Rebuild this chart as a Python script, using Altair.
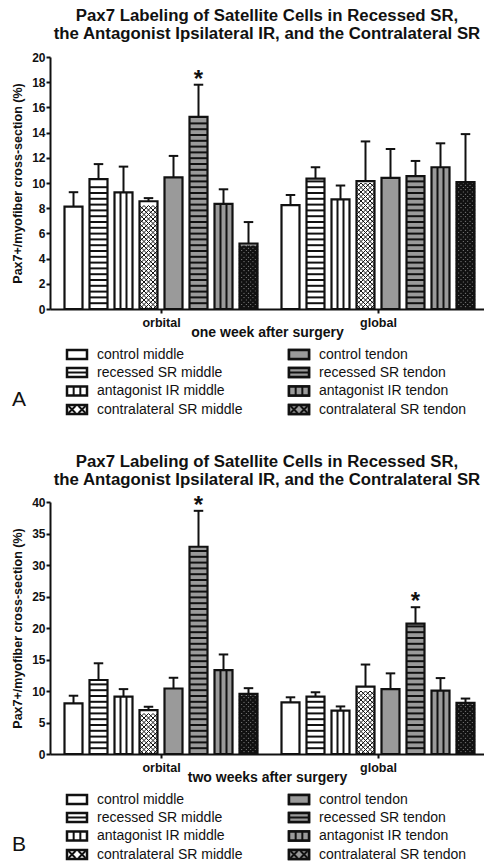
import altair as alt
import pandas as pd

FONT = "Liberation Sans"
INK = "#111111"
GRAY = "#9a9a9a"

# ---------------- data ----------------
groups = ["orbital", "global"]
series = ["control middle", "recessed SR middle", "antagonist IR middle", "contralateral SR middle",
          "control tendon", "recessed SR tendon", "antagonist IR tendon", "contralateral SR tendon"]
patterns = ["plain", "hstripe", "vstripe", "cross", "plain", "hstripe", "vstripe", "cross"]
tissue = ["middle", "middle", "middle", "middle", "tendon", "tendon", "tendon", "tendon"]

week1_orbital_mean = [8.12, 10.3, 9.25, 8.55, 10.45, 15.25, 8.35, 5.2]
week1_orbital_err = [1.15, 1.2, 2.05, 0.25, 1.7, 2.55, 1.15, 1.7]
week1_global_mean = [8.25, 10.35, 8.7, 10.15, 10.4, 10.55, 11.25, 10.08]
week1_global_err = [0.8, 0.9, 1.1, 3.15, 2.3, 1.2, 1.9, 3.8]

week2_orbital_mean = [8.05, 11.75, 9.1, 6.95, 10.4, 32.9, 13.3, 9.55]
week2_orbital_err = [1.2, 2.65, 1.2, 0.55, 1.7, 5.7, 2.5, 0.9]
week2_global_mean = [8.2, 9.1, 6.9, 10.7, 10.3, 20.7, 10.05, 8.1]
week2_global_err = [0.8, 0.7, 0.65, 3.5, 2.5, 2.6, 2.0, 0.7]

week1_significant = [("orbital", "recessed SR tendon")]
week2_significant = [("orbital", "recessed SR tendon"), ("global", "recessed SR tendon")]

title_lines = ["Pax7 Labeling of Satellite Cells in Recessed SR,",
               "the Antagonist Ipsilateral IR, and the Contralateral SR"]
week_labels = ["one week after surgery", "two weeks after surgery"]
panel_letters = ["A", "B"]
y_label = "Pax7+/myofiber cross-section (%)"

# ---------------- layout (style only) ----------------
PLOT_W, PLOT_H = 434, 252
GROUP_CENTER = [4.44, 13.12]
X_MAX = 17.36
HALF = 0.36
CAP = 0.19
LEG_SW_X = [17, 239]
LEG_TX_X = [47, 269]
LEG_ROW_Y = [297.5, 315.5, 334, 352.5]
XSHAPE = "M-1,-1L1,1M-1,1L1,-1"


def build_panel(means, errs, ymax, ystep, xtitle, letter, sig, title_offset):
    ppu = PLOT_H / ymax
    upx = X_MAX / PLOT_W
    rows = []
    for gi, g in enumerate(groups):
        for si, s in enumerate(series):
            pos = GROUP_CENTER[gi] + si - 3.5
            m = means[g][si]
            e = errs[g][si]
            rows.append(dict(group=g, series=s, mean=m, top=m + e, pos=pos,
                             xl=pos - HALF, xr=pos + HALF, cl=pos - CAP, cr=pos + CAP,
                             tissue=tissue[si], pattern=patterns[si],
                             star="*" if (g, s) in sig else ""))
    df = pd.DataFrame(rows)

    hs, vs, xs = [], [], []
    dy_h = 5.8 / ppu
    for r in rows:
        if r["pattern"] == "hstripe":
            k = 1
            while k * dy_h < r["mean"] - 0.45 * dy_h:
                hs.append(dict(xl=r["xl"], xr=r["xr"], mean=k * dy_h))
                k += 1
        elif r["pattern"] == "vstripe":
            for f in (1 / 3, 2 / 3):
                vs.append(dict(xl=r["xl"] + f * (r["xr"] - r["xl"]), mean=r["mean"]))
        elif r["pattern"] == "cross":
            ncol = 4
            cw = (r["xr"] - r["xl"]) / ncol
            ch = (cw / upx) / ppu
            k = 0
            while (k + 1) * ch <= r["mean"] + 1e-9:
                for j in range(ncol):
                    xs.append(dict(xl=r["xl"] + (j + 0.5) * cw, mean=(k + 0.5) * ch, tissue=r["tissue"]))
                k += 1
    hs_df = pd.DataFrame(hs)
    vs_df = pd.DataFrame(vs)
    xs_df = pd.DataFrame(xs)

    xscale = alt.Scale(domain=[0, X_MAX], nice=False, zero=False)
    yscale = alt.Scale(domain=[0, ymax], nice=False)
    X = alt.X("xl:Q", scale=xscale, title=xtitle,
              axis=alt.Axis(values=GROUP_CENTER, labelExpr="datum.value < 9 ? 'orbital' : 'global'",
                            tickSize=4, tickWidth=2, domainWidth=2, labelPadding=3,
                            labelFontSize=12.5, labelFontWeight="bold", labelAngle=0,
                            titleFontSize=14, titleFontWeight="bold",
                            titleY=27, titleBaseline="alphabetic"))
    Y = alt.Y("mean:Q", scale=yscale, title=y_label,
              axis=alt.Axis(values=list(range(0, ymax + 1, ystep)), tickSize=4, tickWidth=2,
                            domainWidth=2, labelPadding=1, labelFontSize=12, labelFontWeight="bold",
                            titleFontSize=12.5, titleFontWeight="bold", titlePadding=7))

    base = alt.Chart(df)
    fill_enc = alt.Fill("tissue:N", scale=alt.Scale(domain=["middle", "tendon"], range=["white", GRAY]), legend=None)

    bars = base.mark_bar(strokeWidth=0).encode(x=X, x2="xr:Q", y=Y, y2=alt.datum(0), fill=fill_enc)

    layers = [bars]
    if len(hs_df):
        layers.append(alt.Chart(hs_df).mark_rule(color=INK, strokeWidth=2).encode(
            x=X, x2="xr:Q", y=Y))
    if len(vs_df):
        layers.append(alt.Chart(vs_df).mark_rule(color=INK, strokeWidth=2).encode(
            x=X, y=Y, y2=alt.datum(0)))
    if len(xs_df):
        layers.append(alt.Chart(xs_df).mark_point(
            shape=XSHAPE, size=(HALF * 2 / 4 / upx) ** 2, filled=False, opacity=1).encode(
            x=X, y=Y,
            stroke=alt.Stroke("tissue:N", scale=alt.Scale(domain=["middle", "tendon"], range=[INK, INK]), legend=None),
            strokeWidth=alt.StrokeWidth("tissue:N", scale=alt.Scale(domain=["middle", "tendon"], range=[1.0, 2.4]), legend=None),
        ))
    # outlines on top
    layers.append(base.mark_bar(fillOpacity=0, stroke=INK, strokeWidth=2.2).encode(
        x=X, x2="xr:Q", y=Y, y2=alt.datum(0)))
    # error bars
    layers.append(base.transform_calculate(xl="datum.pos").mark_rule(color=INK, strokeWidth=2).encode(
        x=X, y=Y, y2="top:Q"))
    layers.append(base.transform_calculate(xl="datum.cl", mean="datum.top").mark_rule(color=INK, strokeWidth=2).encode(
        x=X, x2="cr:Q", y=Y))
    # significance
    layers.append(base.transform_filter("datum.star != ''").transform_calculate(
        xl="datum.pos", mean="datum.top").mark_text(
        font=FONT, fontSize=24, fontWeight="bold", color=INK, baseline="middle", dy=-5).encode(
        x=X, y=Y, text="star:N"))

    # legend drawn with pixel positions
    leg = []
    for si, s in enumerate(series):
        col = 0 if tissue[si] == "middle" else 1
        yc = LEG_ROW_Y[si % 4]
        x0 = LEG_SW_X[col]
        leg.append(dict(label=s, tissue=tissue[si], pattern=patterns[si],
                        x0=x0, x1=x0 + 20, y0=yc - 4.5, y1=yc + 4.5, yc=yc, tx=LEG_TX_X[col]))
    leg_df = pd.DataFrame(leg)
    lb = alt.Chart(leg_df)
    layers.append(lb.mark_rect(stroke=INK, strokeWidth=2.5, fill="white").encode(
        x=alt.X("x0:Q", scale=None), x2="x1:Q", y=alt.Y("y0:Q", scale=None), y2="y1:Q"))
    layers.append(lb.transform_filter("datum.tissue == 'tendon'").mark_rect(stroke=INK, strokeWidth=2.5, fill=GRAY).encode(
        x=alt.X("x0:Q", scale=None), x2="x1:Q", y=alt.Y("y0:Q", scale=None), y2="y1:Q"))
    layers.append(lb.transform_filter("datum.pattern == 'hstripe'").transform_calculate(
        a="datum.x0 + 1", b="datum.x1 - 1").mark_rule(color=INK, strokeWidth=2).encode(
        x=alt.X("a:Q", scale=None), x2="b:Q", y=alt.Y("yc:Q", scale=None)))
    layers.append(lb.transform_filter("datum.pattern == 'vstripe'").transform_calculate(
        k="[1, 2]").transform_flatten(["k"]).transform_calculate(
        vx="datum.x0 + datum.k * 20 / 3").mark_rule(color=INK, strokeWidth=2).encode(
        x=alt.X("vx:Q", scale=None), y=alt.Y("y0:Q", scale=None), y2="y1:Q"))
    layers.append(lb.transform_filter("datum.pattern == 'cross'").transform_calculate(
        k="[0, 1]").transform_flatten(["k"]).transform_calculate(
        cx="datum.x0 + 5 + datum.k * 10").mark_point(
        shape=XSHAPE, size=49, filled=False, strokeWidth=2, opacity=1, color=INK).encode(
        x=alt.X("cx:Q", scale=None), y=alt.Y("yc:Q", scale=None)))
    layers.append(lb.mark_text(font=FONT, fontSize=14, color=INK, align="left", baseline="middle").encode(
        x=alt.X("tx:Q", scale=None), y=alt.Y("yc:Q", scale=None), text="label:N"))
    layers.append(alt.Chart(pd.DataFrame({"t": [letter]})).mark_text(
        font=FONT, fontSize=21, color=INK, align="center", baseline="middle").encode(
        x=alt.value(-31), y=alt.value(343), text="t:N"))

    return alt.layer(*layers).properties(
        width=PLOT_W, height=PLOT_H,
        title=alt.TitleParams(text=title_lines, fontSize=16.8, fontWeight="bold", font=FONT,
                              color=INK, anchor="middle", lineHeight=18.5, offset=title_offset),
    )


panelA = build_panel({"orbital": week1_orbital_mean, "global": week1_global_mean},
                     {"orbital": week1_orbital_err, "global": week1_global_err},
                     20, 2, week_labels[0], panel_letters[0], week1_significant, 8)
panelB = build_panel({"orbital": week2_orbital_mean, "global": week2_global_mean},
                     {"orbital": week2_orbital_err, "global": week2_global_err},
                     40, 5, week_labels[1], panel_letters[1], week2_significant, 5)

chart = alt.vconcat(panelA, panelB, spacing=36).properties(
    padding={"left": 11, "top": 7, "right": 0, "bottom": 0}
).configure_view(stroke=None).configure_axis(
    labelFont=FONT, titleFont=FONT, domainColor=INK, tickColor=INK,
    labelColor=INK, titleColor=INK, grid=False
)

chart.save("out.html", embed_options={"renderer": "svg", "actions": False})
